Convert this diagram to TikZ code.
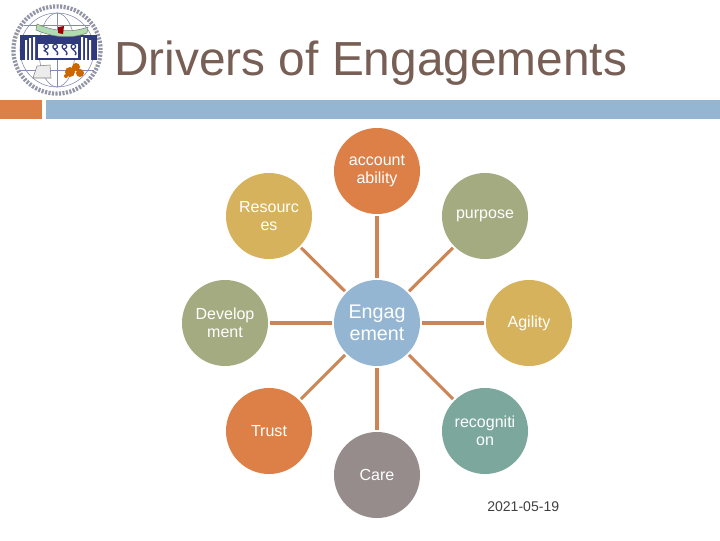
\documentclass[tikz,border=0pt]{standalone}
\usepackage{fontspec}
\setmainfont{Liberation Sans}
\newfontfamily\devafont[Script=Devanagari]{Noto Sans}
\usetikzlibrary{arrows.meta,positioning}
\definecolor{orangeC}{HTML}{DD8047}
\definecolor{blueC}{HTML}{94B6D2}
\definecolor{goldC}{HTML}{D6B25C}
\definecolor{oliveC}{HTML}{A5AB81}
\definecolor{tealC}{HTML}{7BA79D}
\definecolor{greyC}{HTML}{968C8C}
\definecolor{titleC}{HTML}{775F55}
\definecolor{spokeC}{HTML}{CC8556}
\definecolor{navyC}{HTML}{2F3A7E}
\begin{document}
\begin{tikzpicture}[
  x=0.025cm, y=-0.025cm,
  circ/.style={circle, fill=#1, minimum size=2.15cm, inner sep=0pt, outer sep=1.5pt, align=center, text=white, font=\fontsize{11.4}{12.6}\selectfont},
  spoke/.style={draw=spokeC, line width=2.2pt},
  band/.style={fill=#1, minimum height=0.475cm, inner sep=0pt, anchor=north west},
  logoline/.style={draw=navyC!60, line width=0.4pt}]
\useasboundingbox (0,0) rectangle (720,540);
% logo
\node[circle, draw=navyC!35!gray!70, line width=3pt, dash pattern=on 1.5pt off 1pt, minimum size=2.18cm, inner sep=0pt] (seal) at (57,50) {};
\node[circle, draw=navyC!60, line width=0.4pt, minimum size=1.85cm, inner sep=0pt] (globe) at (57,50) {};
\draw[logoline] (seal.center) ellipse (18 and 37);
\draw[logoline] (24,25) -- (90,25) (20,70) -- (94,70) (57,13) -- (57,87);
\fill[navyC] (20,35) rectangle (97,60);
\fill[white] (38,44) rectangle (78,58);
\fill[white] (25,40) rectangle (27,60) (29,38) rectangle (31,60) (33,37) rectangle (35,60) (81,37) rectangle (83,60) (85,38) rectangle (87,60) (89,40) rectangle (91,60);
\node[inner sep=0pt, text=navyC, font=\devafont\fontsize{12.5}{13}\selectfont] (year) at (60,50) {१९९९};
\draw[fill=green!40!gray!45, draw=gray] (37,24) .. controls (50,30) and (70,34) .. (88,27) -- (87,33) .. controls (68,40) and (50,36) .. (36,30) -- cycle;
\fill[red!60!black] (58,27) -- (64,26) -- (63,34) -- (58,33) -- cycle;
\draw[fill=gray!15, draw=gray] (37,66) -- (50,65) -- (51,78) -- (33,78) -- cycle;
\fill[orange!80!black] (70,72) circle (5) (76,67) circle (4) (80,73) circle (4) (66,76) circle (2);
% title and header bands
\node[anchor=base west, inner sep=0pt, text=titleC, font=\fontsize{34}{38}\selectfont] (title) at (114,75) {Drivers of Engagements};
\node[band=orangeC, minimum width=1.05cm] (bandL) at (0,100) {};
\node[band=blueC, minimum width=16.85cm] (bandR) at (46,100) {};
% ring of circles
\node[circ=blueC, font=\fontsize{14}{15.5}\selectfont] (eng) at (377,323) {Engag\\ement};
\node[circ=orangeC] (acc) at (377,171) {account\\ability};
\node[circ=oliveC] (pur) at (485,216) {purpose};
\node[circ=goldC] (agi) at (529,323) {Agility};
\node[circ=tealC] (rec) at (485,431) {recogniti\\on};
\node[circ=greyC] (car) at (377,475) {Care};
\node[circ=orangeC] (tru) at (269,431) {Trust};
\node[circ=oliveC] (dev) at (225,323) {Develop\\ment};
\node[circ=goldC] (res) at (269,216) {Resourc\\es};
\foreach \n in {acc,pur,agi,rec,car,tru,dev,res}
  \draw[spoke] (eng) -- (\n);
\node[anchor=west, inner sep=0pt, text=black!75, font=\fontsize{10}{12}\selectfont] (date) at (487,507) {2021-05-19};
\end{tikzpicture}
\end{document}
